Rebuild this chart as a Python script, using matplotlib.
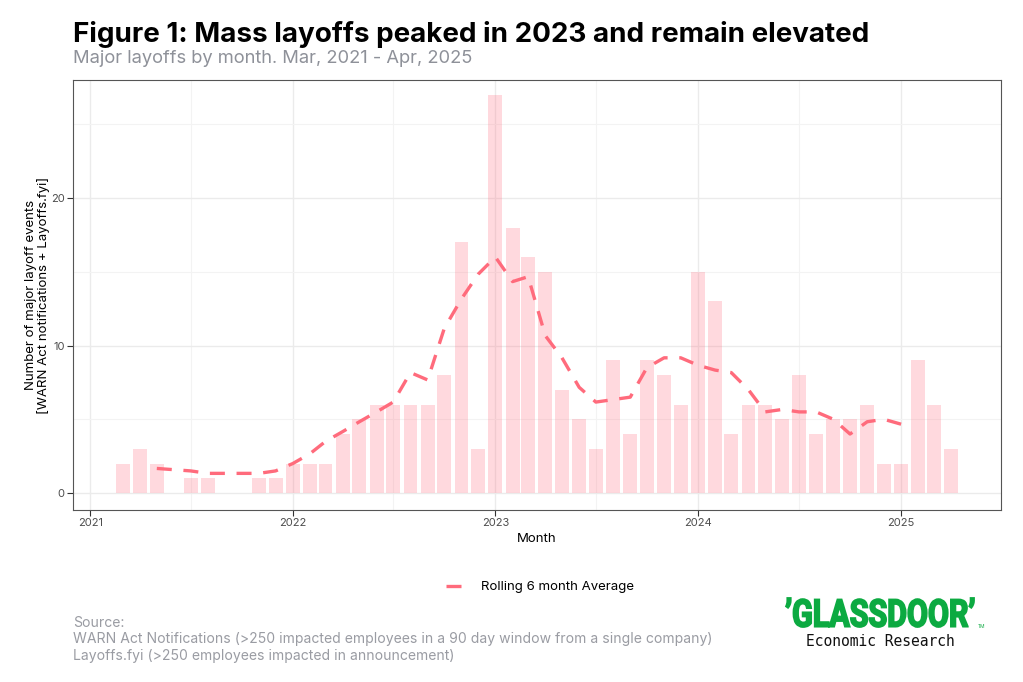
import numpy as np
import pandas as pd
import matplotlib
matplotlib.use('Agg')
import matplotlib.pyplot as plt
import matplotlib.dates as mdates
from matplotlib.ticker import MultipleLocator
from matplotlib.textpath import TextPath
from matplotlib.patches import PathPatch
from matplotlib.font_manager import FontProperties
from matplotlib.transforms import Affine2D, IdentityTransform

plt.rcParams['font.family'] = ['Inter', 'DejaVu Sans']

# months with at least one major layoff event (months with none are absent)
months = ['2021-03', '2021-04', '2021-05', '2021-07', '2021-08', '2021-11', '2021-12',
          '2022-01', '2022-02', '2022-03', '2022-04', '2022-05', '2022-06',
          '2022-07', '2022-08', '2022-09', '2022-10', '2022-11', '2022-12',
          '2023-01', '2023-02', '2023-03', '2023-04', '2023-05', '2023-06',
          '2023-07', '2023-08', '2023-09', '2023-10', '2023-11', '2023-12',
          '2024-01', '2024-02', '2024-03', '2024-04', '2024-05', '2024-06',
          '2024-07', '2024-08', '2024-09', '2024-10', '2024-11', '2024-12',
          '2025-01', '2025-02', '2025-03', '2025-04']
events = [2, 3, 2, 1, 1, 1, 1,
          2, 2, 2, 4, 5, 6, 6, 6, 6, 8, 17, 3,
          27, 18, 16, 15, 7, 5, 3, 9, 4, 9, 8, 6,
          15, 13, 4, 6, 6, 5, 8, 4, 5, 5, 6, 2,
          2, 9, 6, 3]

dates = pd.to_datetime(months)
s = pd.Series(events, index=dates, dtype=float)
# centred 6 month rolling mean (rows i-2 .. i+3)
roll = s.rolling(6).mean().shift(-3)

red = '#FF6B7C'

fig = plt.figure(figsize=(10.23, 6.82), dpi=100)
ax = fig.add_axes([73/1023, 1-510/682, (1001-73)/1023, (510-80)/682])

ax.set_axisbelow(True)
ax.grid(which='major', color='#EBEBEB', lw=1.0)
ax.grid(which='minor', color='#F3F3F3', lw=0.8)

ax.bar(dates, s.values, width=25, color=red, alpha=0.25, lw=0)
ax.plot(roll.index, roll.values, color=red, lw=2.4, dashes=(4.5, 3.5),
        label='Rolling 6 month Average')

ax.set_xlim(pd.Timestamp('2020-12-01'), pd.Timestamp('2025-06-30'))
ax.set_ylim(-1.15, 28.0)
ax.xaxis.set_major_locator(mdates.YearLocator())
ax.xaxis.set_major_formatter(mdates.DateFormatter('%Y'))
ax.xaxis.set_minor_locator(mdates.MonthLocator(bymonth=7))
ax.yaxis.set_major_locator(MultipleLocator(10))
ax.yaxis.set_minor_locator(MultipleLocator(5))

ax.tick_params(which='major', length=4, width=0.8, color='#333333',
               labelsize=8, labelcolor='#4D4D4D', pad=2)
ax.tick_params(which='minor', length=0)
for sp in ax.spines.values():
    sp.set_color('#555555')
    sp.set_linewidth(0.8)

ax.set_xlabel('Month', fontsize=9.5, labelpad=3)
ax.set_ylabel('Number of major layoff events\n[WARN Act notifications + Layoffs.fyi]',
              fontsize=9.5, labelpad=1, linespacing=1.0)

fig.text(73/1023, 1-21/682, 'Figure 1: Mass layoffs peaked in 2023 and remain elevated',
         fontsize=20, fontweight='bold', va='top', ha='left')
fig.text(73/1023, 1-50/682, 'Major layoffs by month. Mar, 2021 - Apr, 2025',
         fontsize=13.2, color='#8E9199', va='top', ha='left')

fig.legend(loc='center', bbox_to_anchor=(540/1023, 1-587/682), frameon=False,
           fontsize=9.5, handlelength=1.3, handletextpad=1.4)

fig.text(73/1023, 1-616/682,
         'Source:\nWARN Act Notifications (>250 impacted employees in a 90 day window from a single company)\n'
         'Layoffs.fyi (>250 employees impacted in announcement)',
         fontsize=10.1, color='#9A9CA3', va='top', ha='left', linespacing=1.22)

# logo wordmark, squeezed to a condensed shape
green = '#0CAA41'
tp = TextPath((0, 0), '\u2019GLASSDOOR\u2019', size=10,
              prop=FontProperties(family='Roboto', weight='bold'))
bb = tp.get_extents()
x0, x1, ytop, ybot = 786, 974, 598, 627
tr = (Affine2D().translate(-bb.x0, -bb.y0)
      .scale((x1 - x0) / bb.width, (ybot - ytop) / bb.height)
      .translate(x0, 682 - ybot))
fig.patches.append(PathPatch(tp, transform=tr + IdentityTransform(),
                             facecolor=green, edgecolor=green, lw=1.3))
fig.text(978/1023, 1-627/682, 'TM', fontsize=3.5, color=green,
         ha='left', va='center')
fig.text(880/1023, 1-642/682, 'Economic Research', fontsize=10.5,
         family=['DejaVu Sans Mono'], color='#111111', ha='center', va='center')

fig.savefig('out.png', dpi=100)
